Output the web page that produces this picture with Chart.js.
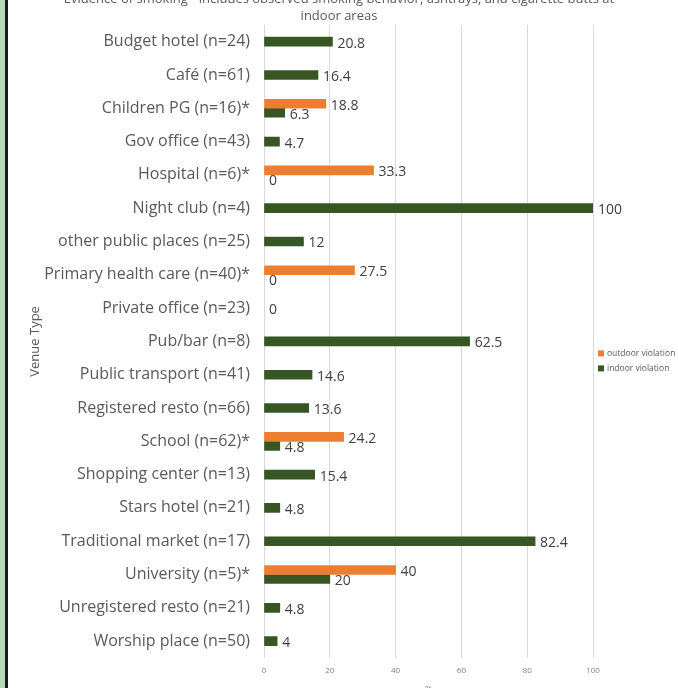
<!DOCTYPE html>
<html>
<head>
<meta charset="utf-8">
<script src="https://cdn.jsdelivr.net/npm/chart.js@4"></script>
<style>
  html, body { margin: 0; padding: 0; background: #fff; }
  body { width: 678px; height: 688px; overflow: hidden; position: relative; }
  #wrap { position: absolute; left: 0; top: -12px; }
  .edge1 { position: absolute; left: 0; top: 0; width: 5px; height: 688px; background: #b7d9b9; }
  .edge2 { position: absolute; left: 5px; top: 0; width: 3px; height: 688px; background: #1b1b1b; }
</style>
</head>
<body>
<div id="wrap"><canvas id="venueChart" width="678" height="712"></canvas></div>
<div class="edge1"></div>
<div class="edge2"></div>
<script>
const venues = [
  'Budget hotel (n=24)', 'Café (n=61)', 'Children PG (n=16)*', 'Gov office (n=43)',
  'Hospital (n=6)*', 'Night club (n=4)', 'other public places (n=25)',
  'Primary health care (n=40)*', 'Private office (n=23)', 'Pub/bar (n=8)',
  'Public transport (n=41)', 'Registered resto (n=66)', 'School (n=62)*',
  'Shopping center (n=13)', 'Stars hotel (n=21)', 'Traditional market (n=17)',
  'University (n=5)*', 'Unregistered resto (n=21)', 'Worship place (n=50)'
]

// null = no outdoor measurement for that venue
const outdoorViolation = [
  null, null, 18.8, null, 33.3, null, null, 27.5, null, null,
  null, null, 24.2, null, null, null, 40, null, null
]
const indoorViolation = [
  20.8, 16.4, 6.3, 4.7, 0, 100, 12, 0, 0, 62.5,
  14.6, 13.6, 4.8, 15.4, 4.8, 82.4, 20, 4.8, 4
]

const xTicks = [0, 20, 40, 60, 80, 100]

const titleLines = [
  'Evidence of smoking - includes observed smoking behavior, ashtrays, and cigarette butts at',
  'indoor areas'
]

const FONT = "'Open Sans', sans-serif"
const ORANGE = '#ed7d31'
const GREEN = '#375623'

// value labels at the end of each bar
const barLabels = {
  id: 'barLabels',
  afterDatasetsDraw(chart) {
    const ctx = chart.ctx
    ctx.save()
    ctx.font = '14px ' + FONT
    ctx.fillStyle = '#404040'
    ctx.textAlign = 'left'
    ctx.textBaseline = 'middle'
    chart.data.datasets.forEach((ds, i) => {
      const meta = chart.getDatasetMeta(i)
      meta.data.forEach((bar, j) => {
        const v = ds.data[j]
        if (v === null || v === undefined) return
        ctx.fillText(String(v), bar.x + 5, bar.y + 2)
      })
    })
    ctx.restore()
  }
}

// title centred on the whole canvas (chart area is pushed left by the legend)
const pageTitle = {
  id: 'pageTitle',
  afterDraw(chart) {
    const ctx = chart.ctx
    ctx.save()
    ctx.font = '13px ' + FONT
    ctx.fillStyle = '#595959'
    ctx.textAlign = 'center'
    ctx.textBaseline = 'middle'
    titleLines.forEach((line, i) => {
      ctx.fillText(line, chart.width / 2, 11 + i * 17)
    })
    ctx.restore()
  }
}

// small legend sitting to the right of the plot
const sideLegend = {
  id: 'sideLegend',
  afterDraw(chart) {
    const ctx = chart.ctx
    const x = chart.chartArea.right + 5
    let y = (chart.chartArea.top + chart.chartArea.bottom) / 2 + 12
    ctx.save()
    ctx.font = '8.5px ' + FONT
    ctx.textBaseline = 'middle'
    ctx.textAlign = 'left'
    chart.data.datasets.forEach((ds) => {
      ctx.fillStyle = ds.borderColor
      ctx.fillRect(x, y - 3, 6, 6)
      ctx.fillStyle = '#595959'
      ctx.fillText(ds.label, x + 9, y)
      y += 15
    })
    ctx.restore()
  }
}

// zero-valued bars should not leave a sliver on the axis
const hideZero = (color) => (c) => (c.raw === 0 ? 'rgba(0,0,0,0)' : color)

const data = {
  labels: venues,
  datasets: [{
    label: 'outdoor violation',
    backgroundColor: hideZero(ORANGE),
    borderColor: ORANGE,
    borderWidth: 0,
    data: outdoorViolation,
  }, {
    label: 'indoor violation',
    backgroundColor: hideZero(GREEN),
    borderColor: GREEN,
    borderWidth: 0,
    data: indoorViolation,
  }]
}

const config = {
  type: 'bar',
  data: data,
  options: {
    indexAxis: 'y',
    responsive: false,
    animation: false,
    devicePixelRatio: 1,
    skipNull: true,
    barThickness: 9,
    categoryPercentage: 0.66,
    layout: {
      padding: { top: 37, left: 20, right: 85, bottom: 6 }
    },
    plugins: {
      legend: { display: false },
      tooltip: { enabled: false },
      title: { display: false }
    },
    scales: {
      x: {
        min: 0,
        max: 100,
        afterBuildTicks: (scale) => {
          scale.ticks = xTicks.map(v => ({ value: v }))
        },
        grid: { color: '#d9d9d9', drawTicks: false },
        border: { display: false },
        ticks: {
          color: '#7f7f7f',
          padding: 8,
          font: { family: FONT, size: 8 }
        },
        title: {
          display: true,
          text: '%',
          color: '#7f7f7f',
          font: { family: FONT, size: 8 },
          padding: { top: 1, bottom: 0 }
        }
      },
      y: {
        grid: { display: false, drawTicks: false },
        border: { display: true, color: '#d9d9d9' },
        afterFit: (scale) => {
          scale.width = 244
        },
        ticks: {
          color: '#595959',
          padding: 14,
          autoSkip: false,
          font: { family: FONT, size: 16 }
        },
        title: {
          display: true,
          text: 'Venue Type',
          color: '#595959',
          font: { family: FONT, size: 13 },
          padding: { top: 7, bottom: 0 }
        }
      }
    }
  },
  plugins: [barLabels, pageTitle, sideLegend]
}

const venueChart = new Chart(
  document.getElementById('venueChart'),
  config
)
</script>
</body>
</html>
